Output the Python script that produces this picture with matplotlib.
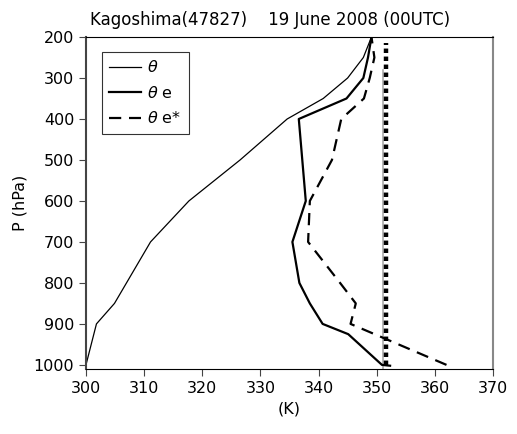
import numpy as np
import matplotlib
matplotlib.use("Agg")
import matplotlib.pyplot as plt

# niveles de presion (hPa) y temperaturas potenciales (K)
p_theta = [1000, 900, 850, 700, 600, 500, 400, 350, 300, 250, 200]
theta = [300.0, 301.8, 304.9, 311.1, 317.7, 326.5, 334.6, 340.8, 345.0, 347.7, 349.1]

p_thetae = [1002, 1000, 925, 900, 850, 800, 700, 600, 500, 400, 350, 300, 250, 200]
thetae = [352.3, 350.9, 345.1, 340.7, 338.5, 336.7, 335.5, 337.8, 337.2, 336.6, 344.8, 347.7, 348.5, 349.1]

p_thetaes = [1000, 900, 850, 800, 700, 600, 500, 400, 350, 300, 250, 200]
thetaes = [362.0, 345.5, 346.4, 343.7, 338.2, 338.5, 342.3, 343.9, 347.8, 348.8, 349.6, 349.1]

# parcela levantada (linea punteada) y linea gris de referencia
p_parcel = [1000, 215]
parcel = [351.6, 351.6]
p_ref = [1010, 280]
ref = [351.0, 351.0]

fs = 11.5
plt.rcParams['font.family'] = ['DejaVu Sans']
fig = plt.figure(figsize=(5.17, 4.34), dpi=100)
ax = fig.add_axes([0.1663, 0.1498, 0.7873, 0.7649])

ax.plot(ref, p_ref, color='#aaaaaa', lw=1.2)
ax.plot(parcel, p_parcel, color='black', lw=3.2, linestyle=(0, (1, 0.8)))
ax.plot(theta, p_theta, color='black', lw=0.9, label=r'$\theta$')
ax.plot(thetae, p_thetae, color='black', lw=1.6, label=r'$\theta$ e')
ax.plot(thetaes, p_thetaes, color='black', lw=1.6, linestyle=(0, (5.5, 3.5)), label=r'$\theta$ e*')

ax.set_xlim(300, 370)
ax.set_ylim(1010, 200)
ax.set_xticks(np.arange(300, 371, 10))
ax.set_yticks(np.arange(200, 1001, 100))
ax.tick_params(direction='out', length=5, labelsize=fs, color='#444444')
ax.spines['right'].set_color('#888888')
ax.spines['right'].set_linewidth(1.5)
ax.spines['left'].set_color('#444444')
ax.spines['left'].set_linewidth(1.5)

ax.set_xlabel('(K)', fontsize=fs)
ax.set_ylabel('P (hPa)', fontsize=fs)
fig.text(0.522, 0.953, 'Kagoshima(47827)    19 June 2008 (00UTC)', ha='center', va='center', fontsize=12)

leg = ax.legend(loc='upper left', bbox_to_anchor=(0.039, 0.955), borderaxespad=0, fontsize=fs,
                frameon=True, fancybox=False, edgecolor='black', handlelength=2.0, handletextpad=0.4,
                borderpad=0.45, labelspacing=0.6)
leg.get_frame().set_linewidth(0.8)

plt.savefig('out.png', dpi=100)
